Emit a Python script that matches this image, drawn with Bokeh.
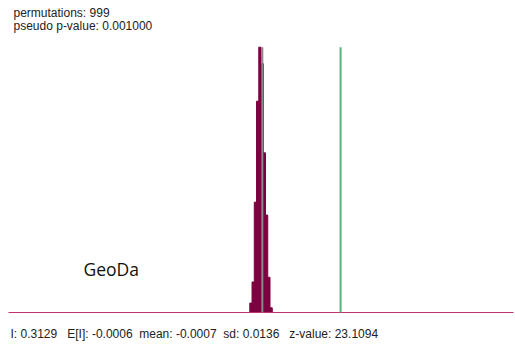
from bokeh.plotting import figure
from bokeh.models import Range1d, Label
from bokeh.embed import file_html
from bokeh.resources import INLINE

# Permutation reference distribution of Moran's I (999 permutations)
bin_start = -0.0509
bin_width = 0.0090
counts = [8, 26, 94, 180, 226, 212, 136, 83, 30, 4]

moran_i = 0.3129
expected_i = -0.0006
perm_mean = -0.0007
perm_sd = 0.0136
z_value = 23.1094
permutations = 999
pseudo_p = 0.001

# horizontal extent of the drawn axis line
axis_lo, axis_hi = -1.018, 1.006

lefts = [bin_start + bin_width * k for k in range(len(counts))]
rights = [l + bin_width for l in lefts]
ymax = max(counts)

W, H = 515, 351
# the frame fills the whole canvas; ranges are padded so the axis line
# runs from x=8 to x=513 px and count 0 sits at y=312 px
AX_L, AX_R, BASE_Y, TOP_Y = 8, 513, 312, 46.7
ux = (axis_hi - axis_lo) / (AX_R - AX_L)
uy = ymax / (BASE_Y - TOP_Y)
x_range = Range1d(axis_lo - AX_L * ux, axis_hi + (W - AX_R) * ux)
y_range = Range1d(-(H - BASE_Y) * uy, BASE_Y * uy)

p = figure(width=W, height=H, output_backend="svg", toolbar_location=None,
           x_range=x_range, y_range=y_range,
           min_border=0)
p.axis.visible = False
p.grid.visible = False
p.outline_line_color = None
p.background_fill_color = "white"
p.border_fill_color = "white"

p.quad(left=lefts, right=rights, bottom=0, top=counts,
       fill_color="#7d0040", line_color="#7d0040", line_width=1)

# baseline
p.segment(x0=[axis_lo], y0=[0], x1=[axis_hi], y1=[0],
          line_color="#c0306a", line_width=1.2)

# mean of the permuted values
p.segment(x0=[perm_mean], y0=[0], x1=[perm_mean], y1=[ymax],
          line_color="#8a8a8a", line_width=2)
# observed Moran's I
p.segment(x0=[moran_i], y0=[0], x1=[moran_i], y1=[ymax],
          line_color="#5cb07a", line_width=2)


def place(x_px, y_px, text, font, size, color="#222222"):
    return Label(x=x_px, y=H - y_px, x_units="screen", y_units="screen",
                 text=text, text_font=font, text_font_size=size,
                 text_baseline="middle", text_color=color)


sp = "\u00a0"
stats = (f"I: {moran_i:.4f}{sp*3}E[I]: {expected_i:.4f}{sp*2}mean: {perm_mean:.4f}"
         f"{sp*2}sd: {perm_sd:.4f}{sp*3}z-value: {z_value:.4f}")

for lab in (
    place(13, 12, f"permutations: {permutations}", "Liberation Sans", "12px"),
    place(13, 25.5, f"pseudo p-value: {pseudo_p:.6f}", "Liberation Sans", "12px"),
    place(10, 333, stats, "Liberation Sans", "12px"),
    place(83, 268, "GeoDa", "Open Sans", "17.5px", "#111111"),
):
    p.add_layout(lab)

open("out.html", "w").write(file_html(p, INLINE))
